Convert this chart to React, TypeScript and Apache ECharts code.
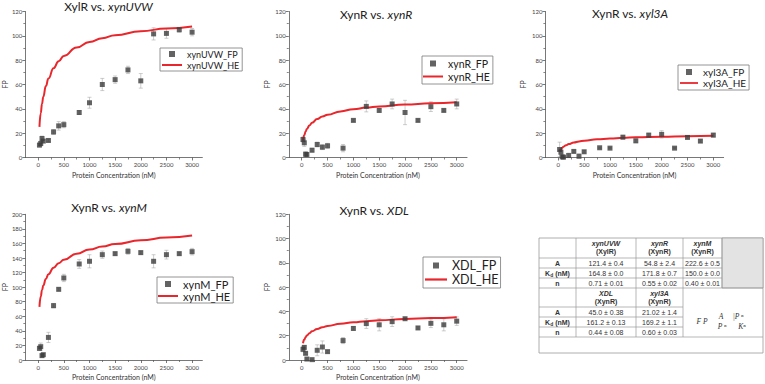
import React, { useEffect, useRef } from 'react';
import * as echarts from 'echarts';

// Protein concentrations (nM) used for the FP titrations
const concentration = [25, 50, 75, 100, 200, 300, 400, 500, 800, 1000, 1250, 1500, 1750, 2000, 2250, 2500, 2750, 3000];

// Measured fluorescence polarisation (mean) and error (half-range)
const xynUVW_FP = [10.2, 11.5, 15.6, 13.5, 14, 21, 26, 27, 37, 45, 60, 64, 72, 63, 101.6, 102, 105, 103];
const xynUVW_ERR = [1.5, 2, 2, 1, 1, 2, 3.5, 2.5, 1.5, 4.5, 5, 3, 3, 6, 5, 4, 2, 3];

const xynR_FP = [14.8, 12.1, 2.7, 2.5, 6, 10.7, 8.5, 9.6, 7.7, 30.5, 42, 38.7, 44, 37, 30.5, 41.8, 38.7, 44];
const xynR_ERR = [2, 3, 2, 1, 1.5, 2, 2, 2, 3, 1, 4.5, 1.5, 4, 10, 1, 4, 1, 4];

const xyl3A_FP = [6.6, 4.4, 0.5, 0.3, 1.6, 5, 1, 4.7, 8, 7.7, 16.7, 13.7, 18.4, 19, 7.7, 16.5, 13.5, 18.4];
const xyl3A_ERR = [6, 2, 1, 0.5, 2, 1, 2, 1, 0.5, 0.5, 1.5, 1.5, 1.5, 3, 0.5, 1, 1, 1.5];

const xynM_FP = [16, 18.3, 6, 7.3, 31, 74.6, 97, 112.6, 131.8, 135.5, 144.6, 146, 149.2, 147.4, 135.5, 144.6, 146, 148.7];
const xynM_ERR = [3, 5, 2, 2, 7, 3, 2, 5, 6, 9, 5, 2, 4, 2, 9, 6, 2, 4.5];

const XDL_FP = [8.8, 10.4, 5.5, 0.8, 0.3, 8, 10.7, 6.9, 16, 26, 30, 29, 31.6, 34, 26.4, 30.2, 29, 32];
const XDL_ERR = [2, 1.5, 1, 1, 0.5, 4.5, 5, 1, 2.5, 1.5, 4, 5, 4, 1, 1, 3.5, 5, 3.5];

// Hill-equation fit curves (HE), sampled along the concentration range
const fitConcentration = [25, 50, 75, 100, 150, 200, 300, 400, 500, 750, 1000, 1250, 1500, 2000, 2500, 3000];
const xynUVW_HE = [25.2, 36.4, 44.1, 50.0, 58.7, 64.9, 73.4, 79.2, 83.5, 90.5, 95.0, 98.1, 100.5, 103.8, 106.0, 107.7];
const xynR_HE = [14.1, 18.4, 21.3, 23.4, 26.4, 28.5, 31.6, 33.7, 35.2, 37.9, 39.7, 41.0, 42.0, 43.5, 44.6, 45.4];
const xyl3A_HE = [5.1, 6.8, 8.0, 8.9, 10.1, 11.0, 12.3, 13.2, 13.8, 14.9, 15.6, 16.2, 16.6, 17.1, 17.5, 17.9];
const xynM_HE = [73.0, 87.2, 95.9, 102.3, 111.3, 117.7, 126.7, 132.8, 137.6, 146.0, 151.6, 155.8, 159.2, 164.3, 168.1, 171.0];
const XDL_HE = [13.8, 16.8, 18.7, 20.1, 22.1, 23.6, 25.6, 26.9, 28.0, 29.8, 31.1, 32.0, 32.7, 33.8, 34.6, 35.3];

// Axis tick values
const majorX = [0, 500, 1000, 1500, 2000, 2500, 3000];
const minorX = [250, 750, 1250, 1750, 2250, 2750];

// Fit parameter table
const rowLabels = ['A', 'K{d|d} (nM)', 'n'];
const topTargets = ['xynUVW', 'xynR', 'xynM'];
const topProteins = ['(XylR)', '(XynR)', '(XynR)'];
const topA = ['121.4 ± 0.4', '54.8 ± 2.4', '222.6 ± 0.5'];
const topKd = ['164.8 ± 0.0', '171.8 ± 0.7', '150.0 ± 0.0'];
const topN = ['0.71 ± 0.01', '0.55 ± 0.02', '0.40 ± 0.01'];
const bottomTargets = ['XDL', 'xyl3A'];
const bottomProteins = ['(XynR)', '(XynR)'];
const bottomA = ['45.0 ± 0.38', '21.02 ± 1.4'];
const bottomKd = ['161.2 ± 0.13', '169.2 ± 1.1'];
const bottomN = ['0.44 ± 0.08', '0.60 ± 0.03'];

const FONT = 'Lato, "Open Sans", sans-serif';
const TABLE_FONT = '"Liberation Sans", Arial, sans-serif';
const SERIF = '"Liberation Serif", "DejaVu Serif", serif';
const RED = '#e8262b';
const MARK = '#3c3c3c';
const AXIS = '#555';

const panels = [
  { protein: 'XylR', target: 'xynUVW', fp: xynUVW_FP, err: xynUVW_ERR, fit: xynUVW_HE, yMax: 120 },
  { protein: 'XynR', target: 'xynR', fp: xynR_FP, err: xynR_ERR, fit: xynR_HE, yMax: 120 },
  { protein: 'XynR', target: 'xyl3A', fp: xyl3A_FP, err: xyl3A_ERR, fit: xyl3A_HE, yMax: 120 },
  { protein: 'XynR', target: 'xynM', fp: xynM_FP, err: xynM_ERR, fit: xynM_HE, yMax: 200 },
  { protein: 'XynR', target: 'XDL', fp: XDL_FP, err: XDL_ERR, fit: XDL_HE, yMax: 120 },
];

const layouts = [
  { left: 24.1, top: 11.5, height: 146, nameGap: 17, titleX: 108.5, titleY: 0.5,
    legend: { left: 160, top: 48, itemWidth: 20, fontSize: 9, itemGap: 2, padding: [1.5, 3, 1.5, 2] } },
  { left: 288.8, top: 11.5, height: 146, nameGap: 18.5, titleX: 376, titleY: 8,
    legend: { left: 422, top: 56, itemWidth: 20, fontSize: 10.5, itemGap: 2, padding: [2, 3, 2, 1] } },
  { left: 545.4, top: 11.5, height: 146, nameGap: 18.5, titleX: 630, titleY: 7,
    legend: { left: 678, top: 65, itemWidth: 18, fontSize: 10, itemGap: 1, padding: [2, 3, 2, 2] } },
  { left: 24.1, top: 214.3, height: 145.7, nameGap: 17, titleX: 109, titleY: 201.5,
    legend: { left: 157, top: 277, itemWidth: 20, fontSize: 11, itemGap: 1, padding: [1.5, 3, 1.5, 1] } },
  { left: 288.8, top: 214.3, height: 145.7, nameGap: 18.5, titleX: 374, titleY: 204,
    legend: { left: 423, top: 257, itemWidth: 22, fontSize: 12.5, itemGap: 1, padding: [2, 2, 2, 2] } },
];

const GRID_WIDTH = 178.25;
const X_MIN = -250;
const X_MAX = 3200;

function errorBarRenderer(params: any, api: any) {
  const x = api.value(0);
  const y = api.value(1);
  const e = api.value(2);
  const hi = api.coord([x, y + e]);
  const lo = api.coord([x, y - e]);
  const cap = 2;
  const style = { stroke: '#ababab', lineWidth: 0.6 };
  return {
    type: 'group',
    children: [
      { type: 'line', shape: { x1: hi[0], y1: hi[1], x2: lo[0], y2: lo[1] }, style },
      { type: 'line', shape: { x1: hi[0] - cap, y1: hi[1], x2: hi[0] + cap, y2: hi[1] }, style },
      { type: 'line', shape: { x1: lo[0] - cap, y1: lo[1], x2: lo[0] + cap, y2: lo[1] }, style },
    ],
  };
}

function buildTable(): any[] {
  const xs = [539, 576, 636, 683, 722, 763];
  const ys = [238, 258, 268, 278, 288, 307, 317, 327, 337, 353];
  const lineStyle = { stroke: '#9a9a9a', lineWidth: 0.7 };
  const els: any[] = [];
  const hLine = (y: number, x1: number, x2: number) =>
    els.push({ type: 'line', shape: { x1, y1: y, x2, y2: y }, style: lineStyle, silent: true });
  const vLine = (x: number, y1: number, y2: number) =>
    els.push({ type: 'line', shape: { x1: x, y1, x2: x, y2 }, style: lineStyle, silent: true });
  const text = (x: number, y: number, t: string, extra: any = {}) =>
    els.push({
      type: 'text', x, y, silent: true,
      style: {
        text: t, fill: '#333', fontSize: 7, fontFamily: TABLE_FONT,
        align: 'center', verticalAlign: 'middle', ...extra,
      },
    });

  els.push({
    type: 'rect', shape: { x: xs[0], y: ys[0], width: xs[5] - xs[0], height: ys[9] - ys[0] },
    style: { fill: '#fff', stroke: '#9a9a9a', lineWidth: 0.8 }, silent: true,
  });
  els.push({
    type: 'rect', shape: { x: xs[4], y: ys[0], width: xs[5] - xs[4], height: ys[4] - ys[0] },
    style: { fill: '#e3e3e3', stroke: '#9a9a9a', lineWidth: 0.7 }, silent: true,
  });

  [ys[1], ys[2], ys[3]].forEach((y) => hLine(y, xs[0], xs[4]));
  hLine(ys[4], xs[0], xs[5]);
  [ys[5], ys[6], ys[7]].forEach((y) => hLine(y, xs[0], xs[3]));
  hLine(ys[8], xs[0], xs[5]);
  [xs[1], xs[2], xs[3]].forEach((x) => vLine(x, ys[0], ys[8]));
  vLine(xs[4], ys[0], ys[4]);

  const labelCx = (xs[0] + xs[1]) / 2;
  const colCx = [1, 2, 3].map((k) => (xs[k] + xs[k + 1]) / 2);
  const labelRich = { d: { fontSize: 5, fontFamily: TABLE_FONT, fontWeight: 'bold', fill: '#333', padding: [3, 0, 0, 0] } };

  // upper block
  topTargets.forEach((t, k) => {
    text(colCx[k], ys[0] + 5.5, t, { fontStyle: 'italic', fontWeight: 'bold' });
    text(colCx[k], ys[0] + 13.5, topProteins[k], { fontWeight: 'bold' });
  });
  [topA, topKd, topN].forEach((vals, r) => {
    const cy = (ys[1 + r] + ys[2 + r]) / 2;
    text(labelCx, cy, rowLabels[r], { fontWeight: 'bold', rich: labelRich });
    vals.forEach((v, k) => text(colCx[k], cy, v));
  });

  // lower block
  bottomTargets.forEach((t, k) => {
    text(colCx[k], ys[4] + 5.5, t, { fontStyle: 'italic', fontWeight: 'bold' });
    text(colCx[k], ys[4] + 13.5, bottomProteins[k], { fontWeight: 'bold' });
  });
  [bottomA, bottomKd, bottomN].forEach((vals, r) => {
    const cy = (ys[5 + r] + ys[6 + r]) / 2;
    text(labelCx, cy, rowLabels[r], { fontWeight: 'bold', rich: labelRich });
    vals.forEach((v, k) => text(colCx[k], cy, v));
  });

  // Hill equation
  const eq = { fontFamily: SERIF, fontStyle: 'italic', fontSize: 7.5, fill: '#333' };
  text(702, 321, 'F P', eq);
  text(721, 316.5, 'A', eq);
  text(738, 316.5, '|P ⁿ', eq);
  text(722, 326.5, 'P ⁿ', eq);
  text(742, 326.5, 'Kⁿ', eq);
  return els;
}

function buildOption(): any {
  const grid: any[] = [];
  const xAxis: any[] = [];
  const yAxis: any[] = [];
  const series: any[] = [];
  const title: any[] = [];
  const legend: any[] = [];

  panels.forEach((p, i) => {
    const L = layouts[i];
    grid.push({ left: L.left, top: L.top, width: GRID_WIDTH, height: L.height, containLabel: false });

    xAxis.push({
      gridIndex: i, type: 'value', min: X_MIN, max: X_MAX, position: 'bottom',
      axisLine: { show: true, onZero: false, lineStyle: { color: AXIS, width: 0.8 } },
      axisTick: { show: true, customValues: majorX, length: 3, lineStyle: { color: AXIS, width: 0.8 } },
      axisLabel: {
        customValues: majorX, fontSize: 6, color: '#444', margin: 4, fontFamily: FONT,
        formatter: (v: number) => String(v),
      },
      splitLine: { show: false },
      name: 'Protein Concentration (nM)', nameLocation: 'middle', nameGap: 13.5,
      nameTextStyle: { fontSize: 7, color: '#333', fontFamily: FONT },
    });
    xAxis.push({
      gridIndex: i, type: 'value', min: X_MIN, max: X_MAX, position: 'bottom',
      axisLine: { show: false, onZero: false },
      axisTick: { show: true, customValues: minorX, length: 2, lineStyle: { color: AXIS, width: 0.7 } },
      axisLabel: { show: false },
      splitLine: { show: false },
    });

    yAxis.push({
      gridIndex: i, type: 'value', min: 0, max: p.yMax, interval: 20,
      axisLine: { show: true, onZero: false, lineStyle: { color: AXIS, width: 0.8 } },
      axisTick: { show: true, length: 3, lineStyle: { color: AXIS, width: 0.8 } },
      minorTick: { show: true, splitNumber: 2, length: 2, lineStyle: { color: AXIS, width: 0.7 } },
      axisLabel: { fontSize: 6, color: '#444', margin: 3, fontFamily: FONT, formatter: (v: number) => String(v) },
      splitLine: { show: false },
      name: 'FP', nameLocation: 'middle', nameGap: L.nameGap,
      nameTextStyle: { fontSize: 7, color: '#333', fontFamily: FONT },
    });

    const fpName = `${p.target}_FP`;
    const heName = `${p.target}_HE`;

    series.push({
      type: 'custom', name: `${p.target}_err`, xAxisIndex: 2 * i, yAxisIndex: i,
      renderItem: errorBarRenderer, clip: true, silent: true, z: 1,
      encode: { x: 0, y: 1 },
      data: concentration.map((c, k) => [c, p.fp[k], p.err[k]]),
    });
    series.push({
      type: 'line', name: heName, xAxisIndex: 2 * i, yAxisIndex: i,
      data: fitConcentration.map((c, k) => [c, p.fit[k]]),
      smooth: true, smoothMonotone: 'x', showSymbol: false, symbol: 'none',
      lineStyle: { color: RED, width: 2 }, itemStyle: { color: RED },
      silent: true, z: 2,
    });
    series.push({
      type: 'scatter', name: fpName, xAxisIndex: 2 * i, yAxisIndex: i,
      data: concentration.map((c, k) => [c, p.fp[k]]),
      symbol: 'rect', symbolSize: 5, itemStyle: { color: MARK },
      silent: true, z: 3,
    });

    title.push({
      text: `${p.protein} vs. {i|${p.target}}`,
      left: L.titleX, top: L.titleY, textAlign: 'center', padding: 0,
      textStyle: {
        fontSize: 12, fontFamily: FONT, fontWeight: 'normal', color: '#222',
        rich: { i: { fontStyle: 'italic', fontSize: 12, fontFamily: FONT, color: '#222' } },
      },
    });

    legend.push({
      orient: 'vertical', left: L.legend.left, top: L.legend.top,
      itemWidth: L.legend.itemWidth, itemHeight: 6, itemGap: L.legend.itemGap,
      padding: L.legend.padding, borderColor: '#7a7a7a', borderWidth: 0.8,
      backgroundColor: '#fff', selectedMode: false, symbolKeepAspect: true,
      textStyle: { fontSize: L.legend.fontSize, fontFamily: FONT, color: '#222' },
      data: [
        { name: fpName, icon: 'path://M0,0H10V10H0Z', itemStyle: { color: MARK } },
        { name: heName, icon: 'path://M0,0H40V4H0Z', itemStyle: { color: RED } },
      ],
    });
  });

  return {
    animation: false,
    backgroundColor: '#fff',
    title, legend, grid, xAxis, yAxis, series,
    graphic: buildTable(),
  };
}

export default function App() {
  const ref = useRef<HTMLDivElement>(null);
  useEffect(() => {
    if (!ref.current) return;
    const chart = echarts.init(ref.current, null, { renderer: 'svg', width: 765, height: 384 });
    chart.setOption(buildOption());
    return () => chart.dispose();
  }, []);
  return (
    <div
      ref={ref}
      style={{ position: 'absolute', left: 0, top: 0, width: 765, height: 384, background: '#fff' }}
    />
  );
}
